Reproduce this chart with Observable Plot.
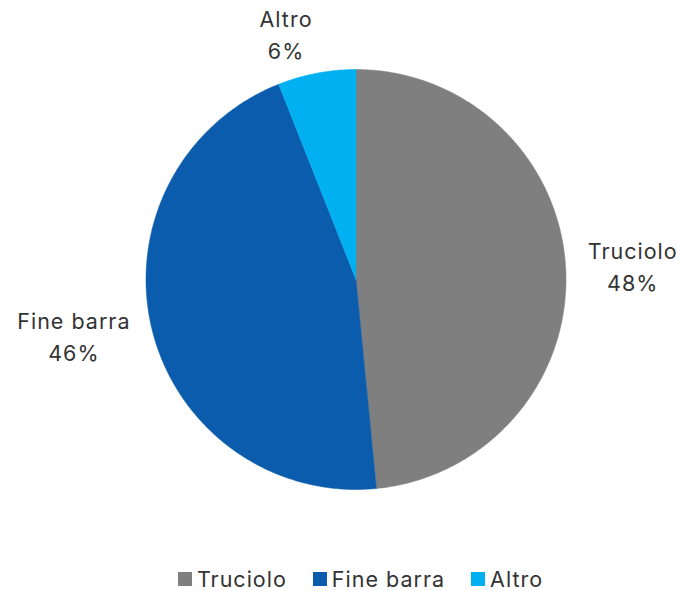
<!DOCTYPE html>
<html>
<head>
<meta charset="utf-8">
<script src="https://cdn.jsdelivr.net/npm/d3@7"></script>
<script src="https://cdn.jsdelivr.net/npm/@observablehq/plot@0.6"></script>
<style>
  html, body { margin: 0; padding: 0; background: #fff; }
  #chart { width: 681px; font-family: Inter, "Noto Sans", sans-serif; }
  #legend { display: flex; justify-content: center; align-items: center; height: 30px;
            padding: 2px 0 0 40px; box-sizing: content-box; gap: 26px;
            font-size: 21.5px; letter-spacing: 1px; color: #333333; }
  #legend .item { display: flex; align-items: center; }
  #legend .sw { width: 14px; height: 14px; margin-right: 5px; display: inline-block; }
</style>
</head>
<body>
<div id="chart"></div>
<script>
const categories = ["Truciolo", "Fine barra", "Altro"];
const values = [48.45, 45.55, 6.0];
const shownPct = ["48%", "46%", "6%"];
const colors = ["#7f7f7f", "#0b5cad", "#00b0f0"];

const W = 681, H = 562, R = 210, CX = 355.5, CY = 279;
const FONT = "Inter, \"Noto Sans\", sans-serif";
const FS = 21.5, LS = 1;

const data = categories.map((c, i) => ({category: c, value: values[i], color: colors[i], pct: shownPct[i]}));
const arcs = d3.pie().sort(null).value(d => d.value)(data);

// polygon points (unit radius) for each slice
function slicePoints(a) {
  const pts = [{x: 0, y: 0}];
  const n = Math.max(2, Math.ceil((a.endAngle - a.startAngle) / (Math.PI / 360)));
  for (let k = 0; k <= n; k++) {
    const t = a.startAngle + (a.endAngle - a.startAngle) * k / n;
    pts.push({x: Math.sin(t), y: Math.cos(t)});
  }
  pts.push({x: 0, y: 0});
  return pts;
}

const ctx = document.createElement("canvas").getContext("2d");
ctx.font = `${FS}px ${FONT}`;
const labels = arcs.map(a => {
  const m = (a.startAngle + a.endAngle) / 2;
  const text = `${a.data.category}\n${a.data.pct}`;
  const w = d3.max(text.split("\n"), s => ctx.measureText(s).width + s.length * LS);
  const pad = 22, hh = 16, lift = 3;
  const s = Math.sin(m), c = Math.cos(m);
  const px = s * (R + pad) + Math.sign(s) * w / 2;
  const py = c * (R + pad) + c * hh + lift;
  return {x: px / R, y: py / R, text};
});

const marks = arcs.map(a => Plot.line(slicePoints(a), {
  x: "x", y: "y", fill: a.data.color, stroke: a.data.color, strokeWidth: 0.5, curve: "linear"
}));
marks.push(Plot.text(labels, {
  x: "x", y: "y", text: "text", fontSize: FS, fill: "#333333", lineHeight: 1.5, textAnchor: "middle"
}));

const plot = Plot.plot({
  width: W, height: H,
  margin: 0,
  style: {fontFamily: FONT, background: "#fff", letterSpacing: `${LS}px`},
  x: {domain: [-CX / R, (W - CX) / R], range: [0, W], axis: null},
  y: {domain: [-(H - CY) / R, CY / R], range: [H, 0], axis: null},
  marks
});

const chart = document.getElementById("chart");
chart.appendChild(plot);
const lg = document.createElement("div");
lg.id = "legend";
categories.forEach((c, i) => {
  const item = document.createElement("span");
  item.className = "item";
  const sw = document.createElement("span");
  sw.className = "sw";
  sw.style.background = colors[i];
  item.appendChild(sw);
  item.appendChild(document.createTextNode(c));
  lg.appendChild(item);
});
chart.appendChild(lg);
</script>
</body>
</html>
